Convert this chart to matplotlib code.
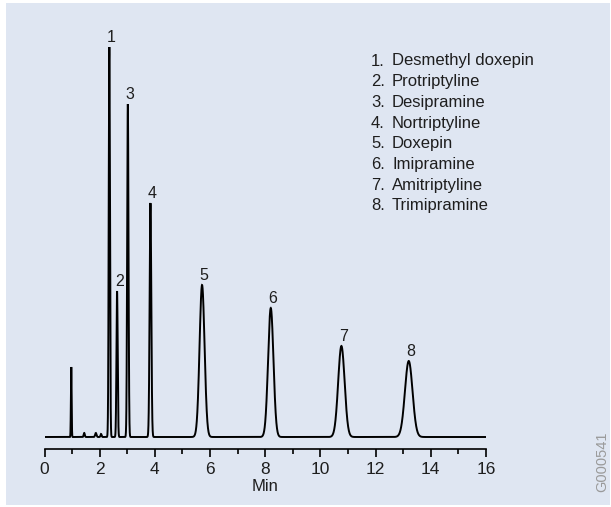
import numpy as np
import matplotlib
matplotlib.use('Agg')
import matplotlib.pyplot as plt
from matplotlib.patches import Rectangle

plt.rcParams['font.family'] = ['Liberation Sans', 'DejaVu Sans']

# peaks (min, detector height, width in min)
peak_labels = ['1', '2', '3', '4', '5', '6', '7', '8']
peak_times = [2.35, 2.63, 3.02, 3.84, 5.71, 8.20, 10.76, 13.20]
peak_heights = [390, 146, 333, 234, 152, 129, 91, 76]
peak_sigmas = [0.022, 0.022, 0.024, 0.03, 0.09, 0.097, 0.117, 0.137]

# unlabelled void peak and small baseline bumps
minor_times = [0.97, 1.44, 1.86, 2.05]
minor_heights = [70, 4, 4, 3]
minor_sigmas = [0.013, 0.02, 0.025, 0.02]

compounds = ['Desmethyl doxepin', 'Protriptyline', 'Desipramine', 'Nortriptyline',
             'Doxepin', 'Imipramine', 'Amitriptyline', 'Trimipramine']

bg = '#dfe6f2'
ink = '#1e1e1e'

fig = plt.figure(figsize=(6.11, 5.07), dpi=100)
fig.patch.set_facecolor('white')
W, H = 611, 507
fig.patches.append(Rectangle((6 / W, 2 / H), 604 / W, 502 / H, transform=fig.transFigure,
                             facecolor=bg, edgecolor='none', zorder=-10))

# axes in pixels: x 0..16 -> 44.5..486, baseline at y=437, axis line at y=449
ax = fig.add_axes([44.5 / W, (H - 449) / H, (486 - 44.5) / W, (449 - 40) / H])
ax.set_facecolor('none')

t = np.linspace(0, 16, 8000)
signal = np.zeros_like(t)
for tr, h, s in zip(peak_times + minor_times, peak_heights + minor_heights,
                    peak_sigmas + minor_sigmas):
    signal += h * np.exp(-0.5 * ((t - tr) / s) ** 2)

ax.plot(t, signal, color='black', lw=1.4, solid_joinstyle='miter')

for lab, tr, h in zip(peak_labels, peak_times, peak_heights):
    ax.annotate(lab, (tr, h), xytext=(1.5, 1.5), textcoords='offset points',
                ha='center', va='bottom', fontsize=11.5, color=ink)

ax.set_xlim(0, 16)
ax.set_ylim(-12, 397)

for side in ['left', 'right', 'top']:
    ax.spines[side].set_visible(False)
ax.spines['bottom'].set_linewidth(1.2)
ax.set_yticks([])
ax.set_xticks(np.arange(0, 17, 2))
ax.set_xticks(np.arange(0, 17, 1), minor=True)
ax.tick_params(axis='x', which='major', length=6, width=1.2, pad=3.5, labelsize=12.5,
               labelcolor=ink)
ax.tick_params(axis='x', which='minor', length=3.8, width=1.2)
ax.set_xlabel('Min', fontsize=12, labelpad=1, color=ink)

# compound key
for i, name in enumerate(compounds):
    y = 1 - (61 + i * 20.7) / H
    fig.text(371 / W, y, f'{i + 1}.', fontsize=12, va='center', ha='left', color=ink)
    fig.text(392 / W, y, name, fontsize=12, va='center', ha='left', color=ink)

fig.text(602 / W, 1 - 462 / H, 'G000541', rotation=90, fontsize=10.5, color='#9a9a9a',
         ha='center', va='center')

fig.savefig('out.png', dpi=100, facecolor=fig.get_facecolor())
